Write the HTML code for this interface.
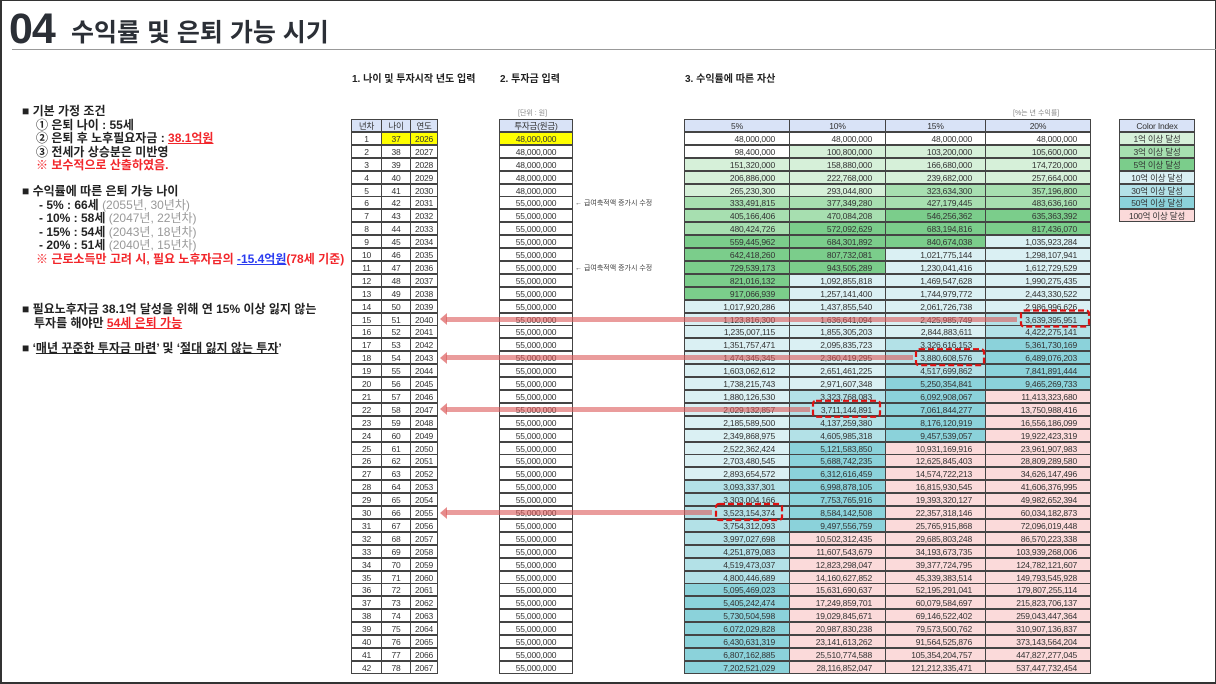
<!DOCTYPE html>
<html><head><meta charset="utf-8">
<style>
*{margin:0;padding:0;box-sizing:border-box}
body{width:1216px;height:684px;position:relative;overflow:hidden;background:#fff;font-family:"Liberation Sans","Noto Sans CJK KR",sans-serif;color:#222}
.frame{position:absolute;left:0;top:0;width:1216px;height:684px;border:1px solid #333;border-left-width:2px;border-bottom-width:2px}
.a{position:absolute;white-space:nowrap}
.c{position:absolute;height:13px;font-size:8.5px;line-height:12px;border:1px solid #444;color:#333;letter-spacing:-0.2px}
.l{font-size:12px;font-weight:bold;color:#222}
.red{color:#f2262b}
.gr{color:#999;font-weight:normal}
.arrow{position:absolute;height:5px;background:rgba(220,90,90,0.6)}
</style></head><body>
<div class="frame"></div>
<div class="a" style="left:9px;top:5px;font-size:43px;font-weight:bold;color:#2b2f36;letter-spacing:-1px">04</div>
<div class="a" style="left:71px;top:13px;font-size:25px;font-weight:bold;color:#2b2f36">수익률 및 은퇴 가능 시기</div>
<div class="a" style="left:12px;top:49px;width:1204px;height:1px;background:#999"></div>

<div class="a l" style="left:22px;top:102px">■ 기본 가정 조건</div>
<div class="a l" style="left:36px;top:116px">① 은퇴 나이 : 55세</div>
<div class="a l" style="left:36px;top:129px">② 은퇴 후 노후필요자금 : <span class="red" style="text-decoration:underline">38.1억원</span></div>
<div class="a l" style="left:36px;top:143px">③ 전세가 상승분은 미반영</div>
<div class="a l red" style="left:36px;top:156px">※ 보수적으로 산출하였음.</div>
<div class="a l" style="left:22px;top:182px">■ 수익률에 따른 은퇴 가능 나이</div>
<div class="a l" style="left:39px;top:196px">- 5% : 66세 <span class="gr">(2055년, 30년차)</span></div>
<div class="a l" style="left:39px;top:209px">- 10% : 58세 <span class="gr">(2047년, 22년차)</span></div>
<div class="a l" style="left:39px;top:223px">- 15% : 54세 <span class="gr">(2043년, 18년차)</span></div>
<div class="a l" style="left:39px;top:236px">- 20% : 51세 <span class="gr">(2040년, 15년차)</span></div>
<div class="a l red" style="left:36px;top:250px">※ 근로소득만 고려 시, 필요 노후자금의 <span style="color:#2a3cf0;text-decoration:underline">-15.4억원</span>(78세 기준)</div>
<div class="a l" style="left:22px;top:300px">■ 필요노후자금 38.1억 달성을 위해 연 15% 이상 잃지 않는</div>
<div class="a l" style="left:34px;top:314px">투자를 해야만 <span class="red" style="text-decoration:underline">54세 은퇴 가능</span></div>
<div class="a l" style="left:22px;top:339px">■ ‘<u>매년 꾸준한 투자금 마련</u>’ 및 ‘<u>절대 잃지 않는 투자</u>’</div>

<div class="a" style="left:352px;top:70px;font-size:10px;font-weight:bold">1. 나이 및 투자시작 년도 입력</div>
<div class="a" style="left:500px;top:70px;font-size:10px;font-weight:bold">2. 투자금 입력</div>
<div class="a" style="left:685px;top:70px;font-size:10px;font-weight:bold">3. 수익률에 따른 자산</div>
<div class="a" style="left:518px;top:108px;font-size:7px;color:#888">[단위 : 원]</div>
<div class="a" style="left:1013px;top:108px;font-size:7px;color:#888">[%는 년 수익률]</div>
<div id="t"></div>
<script>
const T=document.getElementById('t');let h='';
const top0=119,rh=12.9;
function cell(x,y,w,txt,bg,al,pr){h+=`<div class="c" style="left:${x}px;top:${y}px;width:${w}px;background:${bg};text-align:${al};padding-right:${pr||0}px">${txt}</div>`}
const hb='#d9e3f7';
cell(351,top0,31,'년차',hb,'center');cell(381,top0,30,'나이',hb,'center');cell(410,top0,28,'연도',hb,'center');
cell(499,top0,74,'투자금(원금)',hb,'center');
const cx=[684,789,885,985,1090];const rs=[0.05,0.10,0.15,0.20];
['5%','10%','15%','20%'].forEach((s,i)=>cell(cx[i],top0,cx[i+1]-cx[i]+1,s,hb,'center'));
function col(v){if(v>=1e10)return'#fbdada';if(v>=5e9)return'#8bd2da';if(v>=3e9)return'#b3e1e7';if(v>=1e9)return'#daf0f3';if(v>=5e8)return'#7bcd8b';if(v>=3e8)return'#a7dfb0';if(v>=1e8)return'#d6f0d9';return'#fff'}
let vals=[0,0,0,0];
for(let n=1;n<=42;n++){const y=top0+n*rh;const amt=n<=5?48e6:55e6;
 const yb=n==1?'#ffff00':'#fff';
 cell(351,y,31,n,'#fff','center');cell(381,y,30,36+n,yb,'center');cell(410,y,28,2025+n,yb,'center');
 cell(499,y,74,amt.toLocaleString('en-US'),n==1?'#ffff00':'#fff','center');
 for(let i=0;i<4;i++){vals[i]=n==1?amt:Math.round(vals[i]*(1+rs[i])+amt);
  cell(cx[i],y,cx[i+1]-cx[i]+1,vals[i].toLocaleString('en-US'),col(vals[i]),'right',i==0?14:13);}
 if(n==6||n==11)h+=`<div class="a" style="left:575px;top:${y+2}px;font-size:7px;color:#444">← 급여축적액 증가시 수정</div>`;
}
const ci=[['Color Index',hb],['1억 이상 달성','#d6f0d9'],['3억 이상 달성','#a7dfb0'],['5억 이상 달성','#7bcd8b'],['10억 이상 달성','#daf0f3'],['30억 이상 달성','#b3e1e7'],['50억 이상 달성','#8bd2da'],['100억 이상 달성','#fbdada']];
ci.forEach((c,i)=>cell(1119,top0+i*rh,76,c[0],c[1],'center'));
[[15,1017],[18,913],[22,810],[30,712]].forEach(([n,x2])=>{const yc=top0+n*rh+6.5;
 h+=`<div class="arrow" style="left:446px;top:${yc-2.5}px;width:${x2-446}px"></div>`;
 h+=`<div class="a" style="left:440px;top:${yc-6}px;width:0;height:0;border-top:6px solid transparent;border-bottom:6px solid transparent;border-right:7px solid rgba(220,90,90,0.7)"></div>`;});
let s='<svg class="a" style="left:0;top:0" width="1216" height="684">';
[[15,1021,68],[18,916,68],[22,813,67],[30,716,66]].forEach(([n,x,w])=>{const y=top0+n*rh-2;s+=`<rect x="${x}" y="${y}" width="${w}" height="16" rx="3" fill="none" stroke="#d11" stroke-width="2.2" stroke-dasharray="6 3"/>`});
s+='</svg>';h+=s;
T.innerHTML=h;
</script>
</body></html>
